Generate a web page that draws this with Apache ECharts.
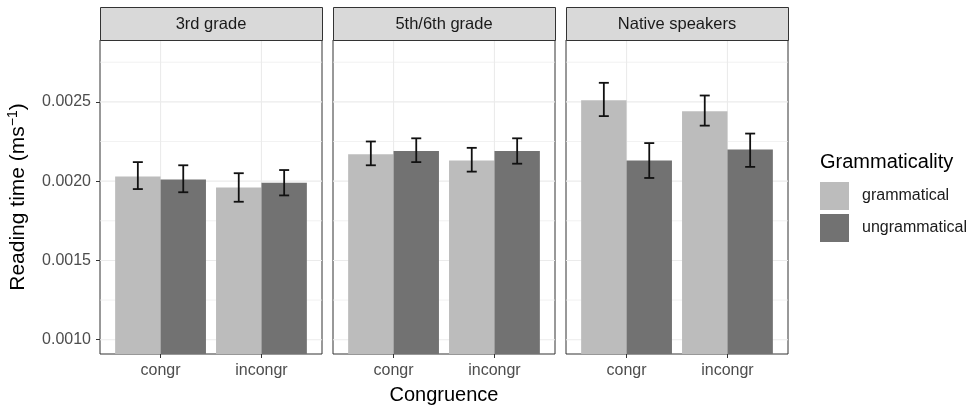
<!DOCTYPE html>
<html>
<head>
<meta charset="utf-8">
<script src="https://cdn.jsdelivr.net/npm/echarts@6/dist/echarts.min.js"></script>
<style>html,body{margin:0;padding:0;background:#fff}#c{width:979px;height:406px}</style>
</head>
<body>
<div id="c"></div>
<script>
// ---- data ----
const categories = ['congr', 'incongr'];
const panels = ['3rd grade', '5th/6th grade', 'Native speakers'];
const groups = ['grammatical', 'ungrammatical'];
const yTicks = [0.0010, 0.0015, 0.0020, 0.0025];
const yMinor = [0.00125, 0.00175, 0.00225, 0.00275];
// per panel: [congr, incongr]
const gramMean = [[0.00203, 0.00196], [0.00217, 0.00213], [0.00251, 0.00244]];
const gramLow  = [[0.00195, 0.00187], [0.00210, 0.00206], [0.00241, 0.00235]];
const gramHigh = [[0.00212, 0.00205], [0.00225, 0.00221], [0.00262, 0.00254]];
const ungrMean = [[0.00201, 0.00199], [0.00219, 0.00219], [0.00213, 0.00220]];
const ungrLow  = [[0.00193, 0.00191], [0.00212, 0.00211], [0.00202, 0.00209]];
const ungrHigh = [[0.00210, 0.00207], [0.00227, 0.00227], [0.00224, 0.00230]];

const FONT = 'Liberation Sans';
const LIGHT = '#BCBCBC', DARK = '#727272';
const gridLefts = [100, 333, 566];
const GW = 222, GTOP = 40, GH = 314;
const YMIN = 0.00091, YMAX = 0.00289;
const XMIN = 0.4, XMAX = 2.6;
const BARW = 0.45 * GW / 2.2;

const grids = [], xAxes = [], yAxes = [], series = [], graphics = [];
panels.forEach((p, i) => {
  grids.push({left: gridLefts[i], top: GTOP, width: GW, height: GH, show: true,
    outerBoundsMode: 'none', containLabel: false,
    borderColor: '#333333', borderWidth: 1, backgroundColor: 'transparent'});
  xAxes.push({type: 'value', gridIndex: i, min: XMIN, max: XMAX,
    axisLine: {show: false}, splitLine: {show: false},
    axisTick: {show: true, customValues: [1, 2], length: 4, lineStyle: {color: '#333333', width: 1}},
    axisLabel: {show: true, customValues: [1, 2], formatter: v => categories[Math.round(v) - 1],
      margin: 9, fontFamily: FONT, fontSize: 16, color: '#4D4D4D'},
    name: i === 1 ? 'Congruence' : '', nameLocation: 'middle', nameGap: 31,
    nameTextStyle: {fontFamily: FONT, fontSize: 20, color: '#000'}
  });
  yAxes.push({type: 'value', gridIndex: i, min: YMIN, max: YMAX, show: i === 0,
    axisLine: {show: false}, splitLine: {show: false},
    axisTick: {show: true, customValues: yTicks, length: 4, lineStyle: {color: '#333333', width: 1}},
    axisLabel: {show: true, customValues: yTicks, formatter: v => v.toFixed(4), margin: 9,
      fontFamily: FONT, fontSize: 16, color: '#4D4D4D'},
    name: i === 0 ? 'Reading time (ms{sup|\u22121})' : '', nameLocation: 'middle', nameGap: 70, nameRotate: 90,
    nameTextStyle: {fontFamily: FONT, fontSize: 21, color: '#000', lineHeight: 24,
      rich: {sup: {fontFamily: FONT, fontSize: 14, color: '#000', verticalAlign: 'top', lineHeight: 24, padding: [0, 0, 10, 0]}}}
  });
  // grid lines (drawn through the axes' scales)
  const glData = [];
  yTicks.forEach(v => glData.push([0, v, 1.1]));
  yMinor.forEach(v => glData.push([0, v, 0.7]));
  [1, 2].forEach(v => glData.push([1, v, 1.1]));
  series.push({type: 'custom', xAxisIndex: i, yAxisIndex: i, z: 1, silent: true, clip: false,
    data: glData,
    renderItem: (params, api) => {
      const vertical = api.value(0) === 1;
      const v = api.value(1);
      let a, b;
      if (vertical) { a = api.coord([v, YMIN]); b = api.coord([v, YMAX]); }
      else { a = api.coord([XMIN, v]); b = api.coord([XMAX, v]); }
      return {type: 'line', shape: {x1: a[0], y1: a[1], x2: b[0], y2: b[1]},
        style: {stroke: '#EBEBEB', lineWidth: api.value(2)}};
    }
  });
  series.push({type: 'bar', name: 'grammatical', xAxisIndex: i, yAxisIndex: i,
    data: categories.map((c, k) => [k + 1, gramMean[i][k]]),
    barWidth: BARW, barGap: '0%', itemStyle: {color: LIGHT}, z: 2, silent: true});
  series.push({type: 'bar', name: 'ungrammatical', xAxisIndex: i, yAxisIndex: i,
    data: categories.map((c, k) => [k + 1, ungrMean[i][k]]),
    barWidth: BARW, barGap: '0%', itemStyle: {color: DARK}, z: 2, silent: true});
  const ebData = [];
  categories.forEach((c, k) => {
    ebData.push([k + 1, -0.225, gramLow[i][k], gramHigh[i][k]]);
    ebData.push([k + 1, 0.225, ungrLow[i][k], ungrHigh[i][k]]);
  });
  series.push({type: 'custom', xAxisIndex: i, yAxisIndex: i, z: 5, silent: true,
    data: ebData, encode: {x: 0, y: [2, 3]},
    renderItem: (params, api) => {
      const x = api.value(0) + api.value(1);
      const lo = api.coord([x, api.value(2)]);
      const hi = api.coord([x, api.value(3)]);
      const hw = 5;
      const st = {stroke: '#111', lineWidth: 1.8};
      return {type: 'group', children: [
        {type: 'line', shape: {x1: lo[0], y1: lo[1], x2: hi[0], y2: hi[1]}, style: st},
        {type: 'line', shape: {x1: lo[0] - hw, y1: lo[1], x2: lo[0] + hw, y2: lo[1]}, style: st},
        {type: 'line', shape: {x1: hi[0] - hw, y1: hi[1], x2: hi[0] + hw, y2: hi[1]}, style: st}
      ]};
    }
  });
  graphics.push({type: 'rect', left: gridLefts[i], top: 7, shape: {width: GW, height: 33},
    style: {fill: '#D9D9D9', stroke: '#333333', lineWidth: 1}, z: 10});
  graphics.push({type: 'text', x: gridLefts[i] + GW / 2, y: 24, z: 11,
    style: {text: p, fontFamily: FONT, fontSize: 16.5, fill: '#1A1A1A', align: 'center', verticalAlign: 'middle'}});
});
graphics.push({type: 'text', x: 820, y: 162, z: 11,
  style: {text: 'Grammaticality', fontFamily: FONT, fontSize: 20, fill: '#000', align: 'left', verticalAlign: 'middle'}});

const chart = echarts.init(document.getElementById('c'), null, {renderer: 'canvas'});
chart.setOption({
  animation: false,
  backgroundColor: '#ffffff',
  grid: grids, xAxis: xAxes, yAxis: yAxes, series: series, graphic: graphics,
  legend: {data: groups, orient: 'vertical', left: 820, top: 182, padding: 0, itemWidth: 29, itemHeight: 28,
    itemGap: 4, icon: 'rect', selectedMode: false,
    textStyle: {fontFamily: FONT, fontSize: 16, color: '#1A1A1A', padding: [0, 0, 0, 8]}}
});
</script>
</body>
</html>
